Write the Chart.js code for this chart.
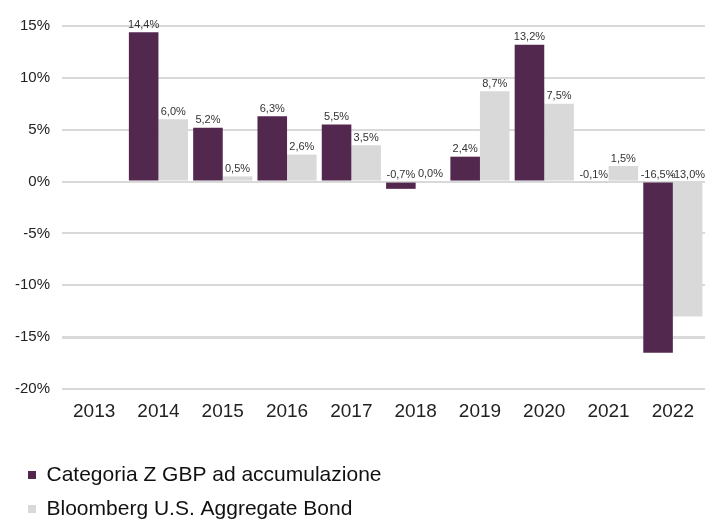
<!DOCTYPE html>
<html lang="it">
<head>
    <meta charset="UTF-8">
    <title>Rendimenti annuali</title>
    <script src="https://cdn.jsdelivr.net/npm/chart.js"></script>
    <style>
        body {
            margin: 0;
            background: #ffffff;
        }
        #chart {
            display: block;
        }
    </style>
</head>
<body>

    <canvas id="chart" width="705" height="524"></canvas>

    <script>
        const years = ['2013', '2014', '2015', '2016', '2017', '2018', '2019', '2020', '2021', '2022'];
        const fundReturns = [null, 14.4, 5.2, 6.3, 5.5, -0.7, 2.4, 13.2, -0.1, -16.5];
        const indexReturns = [null, 6.0, 0.5, 2.6, 3.5, 0.0, 8.7, 7.5, 1.5, -13.0];
        const yTicks = [-20, -15, -10, -5, 0, 5, 10, 15];

        const fontFamily = '"Liberation Sans", Arial, sans-serif';

        // value labels above each bar (negatives sit on the zero line)
        const valueLabels = {
            id: 'valueLabels',
            afterDatasetsDraw(chart) {
                const ctx = chart.ctx;
                ctx.save();
                ctx.font = '11px ' + fontFamily;
                ctx.fillStyle = '#333333';
                ctx.textAlign = 'center';
                ctx.textBaseline = 'bottom';
                chart.data.datasets.forEach((ds, i) => {
                    chart.getDatasetMeta(i).data.forEach((bar, j) => {
                        const v = ds.data[j];
                        if (v === null) return;
                        const text = v.toFixed(1).replace('.', ',') + '%';
                        ctx.fillText(text, bar.x, Math.min(bar.y, bar.base) - 2);
                    });
                });
                ctx.restore();
            }
        };

        new Chart(document.getElementById('chart'), {
            type: 'bar',
            data: {
                labels: years,
                datasets: [{
                    label: 'Categoria Z GBP ad accumulazione',
                    data: fundReturns,
                    backgroundColor: '#53284f',
                    borderWidth: 0
                }, {
                    label: 'Bloomberg U.S. Aggregate Bond',
                    data: indexReturns,
                    backgroundColor: '#d9d9d9',
                    borderWidth: 0
                }]
            },
            options: {
                responsive: false,
                animation: false,
                devicePixelRatio: 1,
                layout: {
                    padding: { left: 15, right: 0, top: 26, bottom: -5.5 }
                },
                datasets: {
                    bar: {
                        categoryPercentage: 0.92,
                        barPercentage: 1.0
                    }
                },
                plugins: {
                    legend: {
                        position: 'bottom',
                        align: 'start',
                        labels: {
                            boxWidth: 8,
                            boxHeight: 8,
                            padding: 13,
                            color: '#111111',
                            font: { family: fontFamily, size: 21 }
                        }
                    },
                    tooltip: { enabled: false }
                },
                scales: {
                    x: {
                        grid: { display: false, drawTicks: false },
                        border: { display: false },
                        ticks: {
                            padding: 11,
                            color: '#222222',
                            font: { family: fontFamily, size: 19 }
                        },
                        afterFit(scale) { scale.height = 62.5; }
                    },
                    y: {
                        min: -20,
                        max: 15,
                        afterBuildTicks(scale) {
                            scale.ticks = yTicks.map(v => ({ value: v }));
                        },
                        grid: {
                            color: '#d9d9d9',
                            lineWidth: c => (c.tick && c.tick.value === -15 ? 3 : 2),
                            drawTicks: false
                        },
                        border: { display: false },
                        ticks: {
                            padding: 12,
                            color: '#222222',
                            font: { family: fontFamily, size: 15 },
                            callback: v => v + '%'
                        },
                        afterFit(scale) { scale.width = 47; }
                    }
                }
            },
            plugins: [valueLabels]
        });
    </script>

</body>
</html>
